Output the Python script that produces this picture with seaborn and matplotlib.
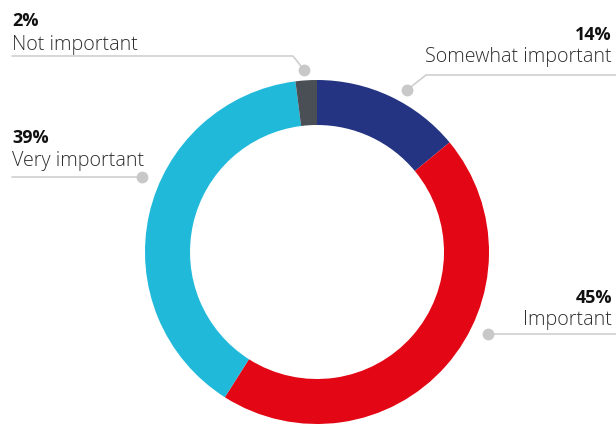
#!/usr/bin/env python3
# -*- coding: utf-8 -*-

import matplotlib
matplotlib.use("Agg")
import matplotlib.pyplot as plt
import seaborn as sns

# ================= data =================
labels = ["Somewhat important", "Important", "Very important", "Not important"]
shares = [14, 45, 39, 2]
colors = ["#243482", "#e30614", "#20b9da", "#4a4f55"]

# ================= style =================
sns.set_theme(style="white")
plt.rcParams["font.family"] = ["Open Sans", "DejaVu Sans"]

W, H = 616, 426
fig = plt.figure(figsize=(W / 100, H / 100), dpi=100)
ax = fig.add_axes([0, 0, 1, 1])

# pixel helpers (y measured from the top of the image)
def py(y):
    return H - y

cx, cy, r_out, ring = 317, 252, 172, 45
ax.pie(shares, colors=sns.color_palette(colors), startangle=90, counterclock=False,
       center=(cx, py(cy)), radius=r_out,
       wedgeprops=dict(width=ring, edgecolor="none"))

ax.set_xlim(0, W)
ax.set_ylim(0, H)
ax.set_aspect("equal")
ax.axis("off")

line_kw = dict(color="#cfcfcf", lw=1.2, zorder=1)
dot_kw = dict(marker="o", ms=7.5, color="#c8c8c8", zorder=2)
pct_kw = dict(fontsize=13, fontweight="bold", color="#111111", va="baseline")
lab_kw = dict(fontsize=14.2, fontweight="light", color="#2e2e2e", va="baseline")

# Not important (left, top)
ax.text(12, py(26), f"{shares[3]}%", ha="left", **pct_kw)
ax.text(12, py(50), labels[3], ha="left", **lab_kw)
ax.plot([12, 293, 304], [py(56), py(56), py(70)], **line_kw)
ax.plot(304, py(70), **dot_kw)

# Very important (left)
ax.text(12, py(143), f"{shares[2]}%", ha="left", **pct_kw)
ax.text(12, py(166), labels[2], ha="left", **lab_kw)
ax.plot([12, 142], [py(177), py(177)], **line_kw)
ax.plot(142, py(177), **dot_kw)

# Somewhat important (right, top)
ax.text(612, py(40), f"{shares[0]}%", ha="right", **pct_kw)
ax.text(612, py(62), labels[0], ha="right", **lab_kw)
ax.plot([616, 426, 407], [py(75), py(75), py(90)], **line_kw)
ax.plot(407, py(90), **dot_kw)

# Important (right)
ax.text(612, py(303), f"{shares[1]}%", ha="right", **pct_kw)
ax.text(612, py(325), labels[1], ha="right", **lab_kw)
ax.plot([616, 488], [py(334), py(334)], **line_kw)
ax.plot(488, py(334), **dot_kw)

fig.savefig("out.png", dpi=100, facecolor="white")
